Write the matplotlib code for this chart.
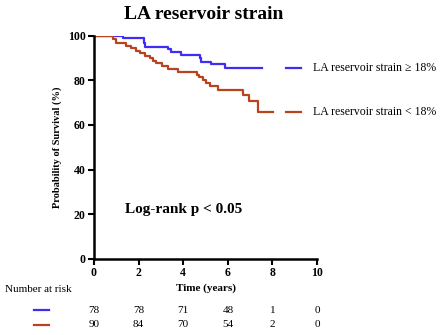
import matplotlib
matplotlib.use("Agg")
from matplotlib import pyplot as plt
from matplotlib import transforms

plt.rcParams['font.family'] = ['Liberation Serif', 'DejaVu Serif']

# Kaplan-Meier steps (time in years, survival in %)
high_t = [0, 1.3, 2.24, 2.3, 3.32, 3.47, 3.92, 4.74, 4.8, 5.26, 5.89, 7.55]
high_s = [100, 98.8, 96.6, 95.1, 93.9, 92.5, 91.2, 89.9, 88.4, 87.2, 85.4, 85.4]
low_t = [0, 0.85, 1.0, 1.42, 1.68, 1.9, 2.05, 2.3, 2.5, 2.65, 2.8, 3.03, 3.32,
         3.77, 4.6, 4.72, 4.9, 5.02, 5.2, 5.54, 6.69, 6.96, 7.33, 8.03]
low_s = [100, 98.5, 96.9, 95.5, 94.3, 93.1, 92.1, 91.0, 90.2, 88.8, 87.6, 86.5, 85.2,
         83.9, 82.4, 81.3, 80.1, 78.6, 77.4, 75.6, 73.4, 70.7, 65.9, 65.9]

labels = ["LA reservoir strain \u2265 18%", "LA reservoir strain < 18%"]
colors = ["#3f2cf5", "#b9431f"]

risk_times = [0, 2, 4, 6, 8, 10]
risk_high = [78, 78, 71, 48, 1, 0]
risk_low = [90, 84, 70, 54, 2, 0]

fig = plt.figure(figsize=(4.4, 3.35), dpi=100)
ax = fig.add_axes([0.2136, 0.2269, 0.507, 0.6667])

ax.step(high_t, high_s, where="post", color=colors[0], lw=1.6)
ax.step(low_t, low_s, where="post", color=colors[1], lw=1.6)

ax.set_xlim(0, 10)
ax.set_ylim(0, 100)
ax.set_xticks(risk_times)
ax.set_yticks([0, 20, 40, 60, 80, 100])
for side in ["top", "right"]:
    ax.spines[side].set_visible(False)
for side in ["left", "bottom"]:
    ax.spines[side].set_linewidth(1.8)
ax.tick_params(width=1.5, length=4, labelsize=8.5, pad=2)
for lbl in ax.get_xticklabels() + ax.get_yticklabels():
    lbl.set_fontweight("bold")

ax.set_ylabel("Probability of Survival (%)", fontsize=7.5, fontweight="bold", labelpad=4)
ax.set_xlabel("Time (years)", fontsize=8, fontweight="bold", labelpad=3)
ax.set_title("LA reservoir strain", fontsize=14, fontweight="bold", x=0.49, pad=12)

ax.text(4.0, 22, "Log-rank p < 0.05", fontsize=11, fontweight="bold", ha="center", va="center")

# legend entries to the right of the curves
for y, lab, c in [(85.4, labels[0], colors[0]), (65.9, labels[1], colors[1])]:
    ax.plot([8.6, 9.3], [y, y], color=c, lw=1.6, clip_on=False)
    ax.text(9.8, y, lab, fontsize=8.5, va="center", ha="left", clip_on=False)

# number at risk table
trans = transforms.blended_transform_factory(ax.transData, fig.transFigure)
fig.text(0.011, 0.137, "Number at risk", fontsize=8, va="center", ha="left")
for row_y, vals, c in [(0.074, risk_high, colors[0]), (0.03, risk_low, colors[1])]:
    fig.add_artist(plt.Line2D([0.078, 0.112], [row_y, row_y], color=c, lw=1.6))
    for t, v in zip(risk_times, vals):
        ax.text(t, row_y, str(v), transform=trans, fontsize=8, ha="center", va="center")

fig.savefig("out.png", dpi=100)
